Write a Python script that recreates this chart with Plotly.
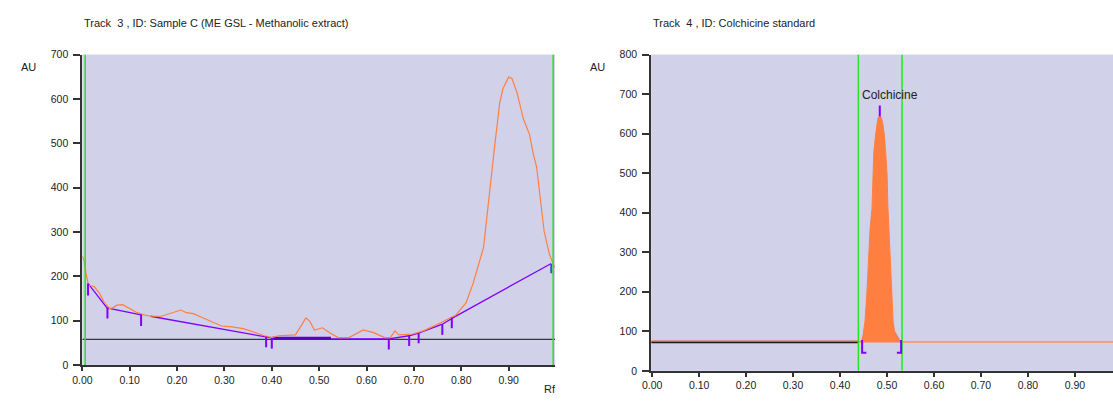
import plotly.graph_objects as go

W, H = 1113, 405

# ---------------- Data ----------------
# Left panel: Track 3, Sample C densitogram (Rf vs AU)
sample_rf = [0.000, 0.004, 0.008, 0.013, 0.025, 0.036, 0.047, 0.058, 0.066, 0.073,
             0.085, 0.100, 0.114, 0.130, 0.144, 0.167, 0.180, 0.195, 0.208, 0.220,
             0.234, 0.253, 0.275, 0.294, 0.316, 0.340, 0.360, 0.384, 0.400, 0.414,
             0.450, 0.463, 0.472, 0.480, 0.490, 0.507, 0.522, 0.540, 0.563, 0.593,
             0.615, 0.638, 0.650, 0.660, 0.668, 0.698, 0.720, 0.750, 0.773, 0.788,
             0.810, 0.825, 0.847, 0.859, 0.864, 0.870, 0.881, 0.888, 0.900, 0.907,
             0.918, 0.931, 0.944, 0.952, 0.959, 0.964, 0.967, 0.975, 0.986, 0.993, 0.997]
sample_au = [245, 235, 205, 180, 177, 162, 140, 127, 130, 135,
             136, 127, 119, 113, 110, 110, 114, 120, 124, 118,
             116, 107, 97, 88, 86, 82, 75, 66, 62, 66,
             68, 92, 106, 99, 79, 84, 73, 62, 62, 79,
             73, 62, 62, 77, 68, 70, 77, 92, 103, 112,
             140, 184, 265, 388, 431, 489, 590, 623, 649, 646,
             613, 555, 520, 476, 447, 404, 375, 301, 250, 228, 220]

# Sample baseline (purple), segments separated by None
sample_base_rf = [0.012, 0.052, 0.124, None, 0.144, 0.388, 0.400, None,
                  0.525, 0.647, 0.690, 0.710, 0.760, 0.785, 0.990]
sample_base_au = [184, 129, 113, None, 110, 64, 61, None,
                  59, 59, 66, 72, 92, 108, 229]
sample_base_bold_rf = [0.400, 0.525]
sample_base_bold_au = [61, 61]

# Peak boundary markers (purple ticks)
marker_rf = [0.012, 0.053, 0.124, 0.388, 0.400, 0.647, 0.690, 0.710, 0.760, 0.780]
marker_top = [184, 129, 114, 64, 61, 59, 66, 72, 92, 107]
marker_bottom = [157, 105, 88, 40, 37, 35, 43, 49, 68, 83]
end_marker_rf = [0.990]
end_marker_top = [228]
end_marker_bottom = [207]

sample_level = 58
sample_window = [0.006, 0.994]

# Right panel: Track 4, Colchicine standard
std_base_level = 73
std_peak_rf = [0.439, 0.446, 0.449, 0.450, 0.453, 0.457, 0.460, 0.461, 0.464, 0.468,
               0.470, 0.472, 0.476, 0.478, 0.481, 0.485, 0.488, 0.491, 0.494, 0.497,
               0.500, 0.502, 0.504, 0.506, 0.507, 0.510, 0.513, 0.516, 0.520, 0.526, 0.530]
std_peak_au = [73, 76, 91, 100, 124, 192, 276, 307, 360, 411,
               500, 555, 600, 624, 641, 643, 641, 624, 600, 555,
               500, 411, 360, 307, 276, 192, 124, 100, 91, 80, 74]
std_window = [0.439, 0.532]
std_left_end = 0.439
std_right_start = 0.530
std_apex_rf = 0.4846
std_apex_marker = [643, 671]
std_bracket_left = [0.456, 0.447, 0.447]
std_bracket_right = [0.521, 0.530, 0.530]
std_bracket_au = [46, 46, 78]

left_xticks = [0.0, 0.1, 0.2, 0.3, 0.4, 0.5, 0.6, 0.7, 0.8, 0.9]
left_xtext = ["0.00", "0.10", "0.20", "0.30", "0.40", "0.50", "0.60", "0.70", "0.80", "0.90"]
left_yticks = [0, 100, 200, 300, 400, 500, 600, 700]
right_yticks = [0, 100, 200, 300, 400, 500, 600, 700, 800]

# ---------------- Style ----------------
ORANGE = "#FF7F40"
PURPLE = "#8000FF"
DPURPLE = "#5A00C8"
GREEN = "#22E822"
BG = "#D1D1E9"
AX = "#333333"
FONT = "Liberation Sans, Arial, sans-serif"


def px_x(p):
    return p / W


def px_y(p):
    return 1 - p / H


def vsegments(xs, tops, bottoms):
    vx, vy = [], []
    for x, t, b in zip(xs, tops, bottoms):
        vx += [x, x, None]
        vy += [t, b, None]
    return vx, vy


fig = go.Figure()

# ---- Left panel traces (xaxis / yaxis)
fig.add_trace(go.Scatter(x=[0, 0.998], y=[sample_level, sample_level], mode="lines",
                         line=dict(color="#111111", width=1), xaxis="x", yaxis="y"))
fig.add_trace(go.Scatter(x=sample_base_rf, y=sample_base_au, mode="lines",
                         line=dict(color=PURPLE, width=1.3), connectgaps=False,
                         xaxis="x", yaxis="y"))
fig.add_trace(go.Scatter(x=sample_base_bold_rf, y=sample_base_bold_au, mode="lines",
                         line=dict(color=DPURPLE, width=2.5), xaxis="x", yaxis="y"))
fig.add_trace(go.Scatter(x=sample_rf, y=sample_au, mode="lines",
                         line=dict(color=ORANGE, width=1.2), xaxis="x", yaxis="y"))
mx, my = vsegments(marker_rf, marker_top, marker_bottom)
fig.add_trace(go.Scatter(x=mx, y=my, mode="lines", line=dict(color=PURPLE, width=2),
                         connectgaps=False, xaxis="x", yaxis="y"))
ex, ey = vsegments(end_marker_rf, end_marker_top, end_marker_bottom)
fig.add_trace(go.Scatter(x=ex, y=ey, mode="lines", line=dict(color="#3050E0", width=2),
                         connectgaps=False, xaxis="x", yaxis="y"))
gx, gy = vsegments(sample_window, [700, 700], [0, 0])
fig.add_trace(go.Scatter(x=gx, y=gy, mode="lines", line=dict(color=GREEN, width=1.5),
                         connectgaps=False, xaxis="x", yaxis="y"))

# ---- Right panel traces (xaxis2 / yaxis2)
fig.add_trace(go.Scatter(x=[-0.002, std_left_end], y=[std_base_level - 1, std_base_level - 1],
                         mode="lines", line=dict(color="#1a1a1a", width=1.6),
                         xaxis="x2", yaxis="y2"))
fig.add_trace(go.Scatter(x=[-0.002, std_left_end], y=[std_base_level + 2, std_base_level + 2],
                         mode="lines", line=dict(color="#E0602A", width=1.4),
                         xaxis="x2", yaxis="y2"))
fig.add_trace(go.Scatter(x=[std_peak_rf[0], std_peak_rf[-1]], y=[std_base_level, std_base_level],
                         mode="lines", line=dict(color=ORANGE, width=1),
                         xaxis="x2", yaxis="y2"))
fig.add_trace(go.Scatter(x=std_peak_rf, y=std_peak_au, mode="lines", fill="tonexty",
                         fillcolor=ORANGE, line=dict(color=ORANGE, width=1),
                         xaxis="x2", yaxis="y2"))
fig.add_trace(go.Scatter(x=[std_right_start, 0.985], y=[std_base_level, std_base_level],
                         mode="lines", line=dict(color="#F2A080", width=2),
                         xaxis="x2", yaxis="y2"))
g2x, g2y = vsegments(std_window, [800, 800], [0, 0])
fig.add_trace(go.Scatter(x=g2x, y=g2y, mode="lines", line=dict(color=GREEN, width=1.5),
                         connectgaps=False, xaxis="x2", yaxis="y2"))
fig.add_trace(go.Scatter(x=[std_apex_rf, std_apex_rf], y=std_apex_marker, mode="lines",
                         line=dict(color=PURPLE, width=2), xaxis="x2", yaxis="y2"))
fig.add_trace(go.Scatter(x=std_bracket_left, y=std_bracket_au, mode="lines",
                         line=dict(color=PURPLE, width=2), xaxis="x2", yaxis="y2"))
fig.add_trace(go.Scatter(x=std_bracket_right, y=std_bracket_au, mode="lines",
                         line=dict(color=PURPLE, width=2), xaxis="x2", yaxis="y2"))

tick_font = dict(family=FONT, size=10.5, color="#222222")
axis_common = dict(showline=True, linecolor=AX, linewidth=2, ticks="outside",
                   tickwidth=1.5, tickcolor=AX, showgrid=False,
                   zeroline=False, tickfont=tick_font, fixedrange=True)

fig.update_layout(
    width=W, height=H,
    margin=dict(l=0, r=0, t=0, b=0),
    paper_bgcolor="white", plot_bgcolor=BG,
    showlegend=False,
    font=dict(family=FONT, size=10.5, color="#222222"),
    xaxis=dict(domain=[px_x(73), px_x(550)], range=[0, 0.998], anchor="y",
               tickvals=left_xticks, ticktext=left_xtext, ticklen=4, **axis_common),
    yaxis=dict(domain=[px_y(370), px_y(50)], range=[0, 700], anchor="x",
               tickvals=left_yticks, ticklen=7, ticklabelstandoff=3, **axis_common),
    xaxis2=dict(domain=[px_x(647), 1.0], range=[-0.002, 0.981], anchor="y2",
                tickvals=left_xticks, ticktext=left_xtext, ticklen=4, **axis_common),
    yaxis2=dict(domain=[px_y(376), px_y(50)], range=[0, 800], anchor="x2",
                tickvals=right_yticks, ticklen=7, ticklabelstandoff=3, **axis_common),
)

ann_font = dict(family=FONT, size=11, color="#222222")
fig.add_annotation(text="Track  3 , ID: Sample C (ME GSL - Methanolic extract)",
                   xref="paper", yref="paper", x=px_x(73), y=px_y(18),
                   xanchor="left", yanchor="middle", showarrow=False, font=ann_font)
fig.add_annotation(text="Track  4 , ID: Colchicine standard",
                   xref="paper", yref="paper", x=px_x(647), y=px_y(18),
                   xanchor="left", yanchor="middle", showarrow=False, font=ann_font)
fig.add_annotation(text="AU", xref="paper", yref="paper", x=px_x(19), y=px_y(63),
                   xanchor="center", yanchor="middle", showarrow=False, font=ann_font)
fig.add_annotation(text="AU", xref="paper", yref="paper", x=px_x(593), y=px_y(63),
                   xanchor="center", yanchor="middle", showarrow=False, font=ann_font)
fig.add_annotation(text="Rf", xref="paper", yref="paper", x=px_x(545), y=px_y(395),
                   xanchor="center", yanchor="middle", showarrow=False, font=ann_font)
fig.add_annotation(text="Colchicine", xref="x2", yref="y2", x=0.506, y=698,
                   xanchor="center", yanchor="middle", showarrow=False,
                   font=dict(family=FONT, size=12, color="#222222"))

fig.write_html(
    "out.html",
    include_plotlyjs=True,
    config={"displayModeBar": False},
    post_script="document.body.style.margin='0';document.body.style.overflow='hidden';",
)
